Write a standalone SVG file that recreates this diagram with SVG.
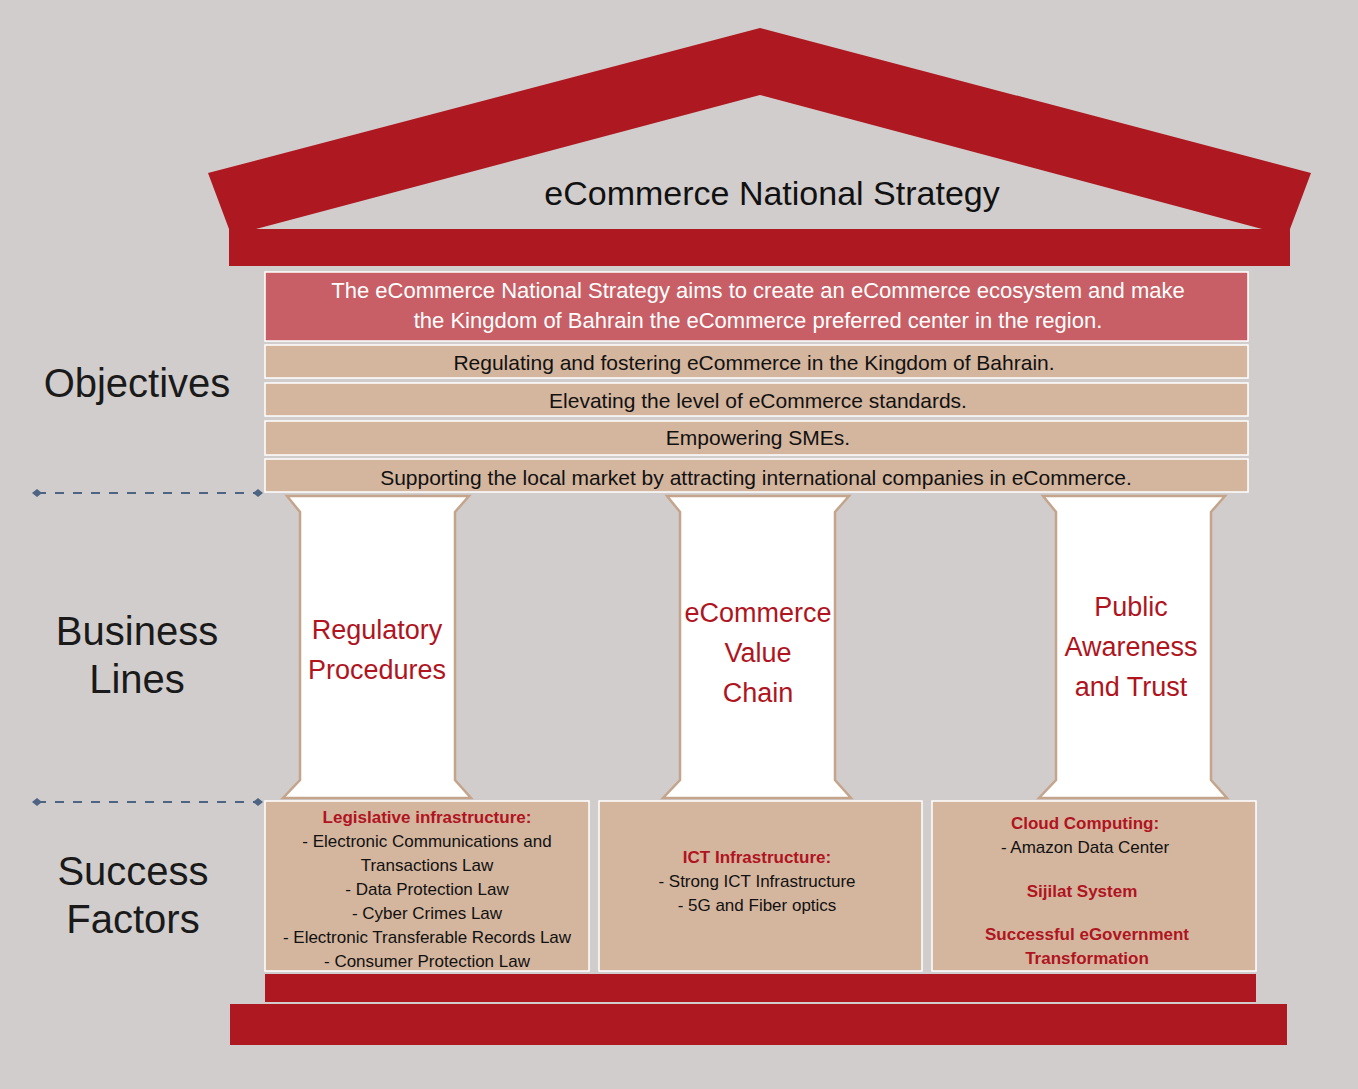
<svg xmlns="http://www.w3.org/2000/svg" width="1358" height="1089" viewBox="0 0 1358 1089">
<style>
text{font-family:"Liberation Sans",Arial,sans-serif}
.red{fill:#ae1820}
.tan{fill:#d4b59e;stroke:#fff;stroke-width:1.5}
.col{fill:#fff;stroke:#c4a58c;stroke-width:2.5}
.lab{font-size:40px;fill:#1a1a1a;text-anchor:middle}
.obj{font-size:21px;fill:#111;text-anchor:middle}
.bl{font-size:27px;fill:#b0141e;text-anchor:middle}
.sf{font-size:17px;fill:#111;text-anchor:middle}
.sfh{font-size:17px;fill:#b0141e;font-weight:bold;text-anchor:middle}
.dash{stroke:#4d6483;stroke-width:2;stroke-dasharray:9,9;fill:none}
</style>
<defs>
<marker id="d" viewBox="0 0 10 10" refX="5" refY="5" markerWidth="5" markerHeight="5" orient="auto"><path d="M0,5 L5,1 L10,5 L5,9 Z" fill="#4d6483"/></marker>
</defs>
<rect width="1358" height="1089" fill="#d2cdcd"/>
<g id="roof">
<polygon class="red" points="208,173 760,28 1311,173 1290,229 1262,229 760,95 256,229 229,229"/>
<rect class="red" x="229" y="229" width="1061" height="37"/>
<text x="772" y="205" font-size="34" fill="#111" text-anchor="middle">eCommerce National Strategy</text>
</g>
<g id="objectives">
<rect x="265" y="272" width="983" height="69" fill="#c85f66" stroke="#fff" stroke-width="1.5"/>
<text x="758" y="298" font-size="22" fill="#fff" text-anchor="middle">The eCommerce National Strategy aims to create an eCommerce ecosystem and make</text>
<text x="758" y="328" font-size="22" fill="#fff" text-anchor="middle">the Kingdom of Bahrain the eCommerce preferred center in the region.</text>
<rect class="tan" x="265" y="345" width="983" height="33"/>
<text class="obj" x="754" y="370">Regulating and fostering eCommerce in the Kingdom of Bahrain.</text>
<rect class="tan" x="265" y="383" width="983" height="33"/>
<text class="obj" x="758" y="408" font-size="22">Elevating the level of eCommerce standards.</text>
<rect class="tan" x="265" y="421" width="983" height="34"/>
<text class="obj" x="758" y="445">Empowering SMEs.</text>
<rect class="tan" x="265" y="459" width="983" height="33"/>
<text class="obj" x="756" y="485">Supporting the local market by attracting international companies in eCommerce.</text>
</g>
<g id="labels">
<text class="lab" x="137" y="397">Objectives</text>
<text class="lab" x="137" y="645">Business</text>
<text class="lab" x="137" y="693">Lines</text>
<text class="lab" x="133" y="885">Success</text>
<text class="lab" x="133" y="933">Factors</text>
</g>
<g id="col1">
<polygon class="col" points="287,496 469,496 455,512 455,780 471,798 283,798 300,780 300,512"/>
<text class="bl" x="377" y="639">Regulatory</text>
<text class="bl" x="377" y="679">Procedures</text>
</g>
<g id="col2">
<polygon class="col" points="667,496 849,496 835,512 835,780 851,798 663,798 680,780 680,512"/>
<text class="bl" x="758" y="622">eCommerce</text>
<text class="bl" x="758" y="662">Value</text>
<text class="bl" x="758" y="702">Chain</text>
</g>
<g id="col3">
<polygon class="col" points="1043,496 1225,496 1211,512 1211,780 1227,798 1039,798 1056,780 1056,512"/>
<text class="bl" x="1131" y="616">Public</text>
<text class="bl" x="1131" y="656">Awareness</text>
<text class="bl" x="1131" y="696">and Trust</text>
</g>
<g id="sf1">
<rect class="tan" x="265" y="801" width="324" height="170"/>
<text class="sfh" x="427" y="823">Legislative infrastructure:</text>
<text class="sf" x="427" y="847">- Electronic Communications and</text>
<text class="sf" x="427" y="871">Transactions Law</text>
<text class="sf" x="427" y="895">- Data Protection Law</text>
<text class="sf" x="427" y="919">- Cyber Crimes Law</text>
<text class="sf" x="427" y="943">- Electronic Transferable Records Law</text>
<text class="sf" x="427" y="967">- Consumer Protection Law</text>
</g>
<g id="sf2">
<rect class="tan" x="599" y="801" width="323" height="170"/>
<text class="sfh" x="757" y="863">ICT Infrastructure:</text>
<text class="sf" x="757" y="887">- Strong ICT Infrastructure</text>
<text class="sf" x="757" y="911">- 5G and Fiber optics</text>
</g>
<g id="sf3">
<rect class="tan" x="932" y="801" width="324" height="170"/>
<text class="sfh" x="1085" y="829">Cloud Computing:</text>
<text class="sf" x="1085" y="853">- Amazon Data Center</text>
<text class="sfh" x="1082" y="897">Sijilat System</text>
<text class="sfh" x="1087" y="940">Successful eGovernment</text>
<text class="sfh" x="1087" y="964">Transformation</text>
</g>
<g id="base">
<rect class="red" x="265" y="974" width="991" height="28"/>
<rect class="red" x="230" y="1004" width="1057" height="41"/>
</g>
<g id="connectors">
<line class="dash" x1="37" y1="493" x2="258" y2="493" marker-start="url(#d)" marker-end="url(#d)"/>
<line class="dash" x1="37" y1="802" x2="258" y2="802" marker-start="url(#d)" marker-end="url(#d)"/>
</g>
</svg>
